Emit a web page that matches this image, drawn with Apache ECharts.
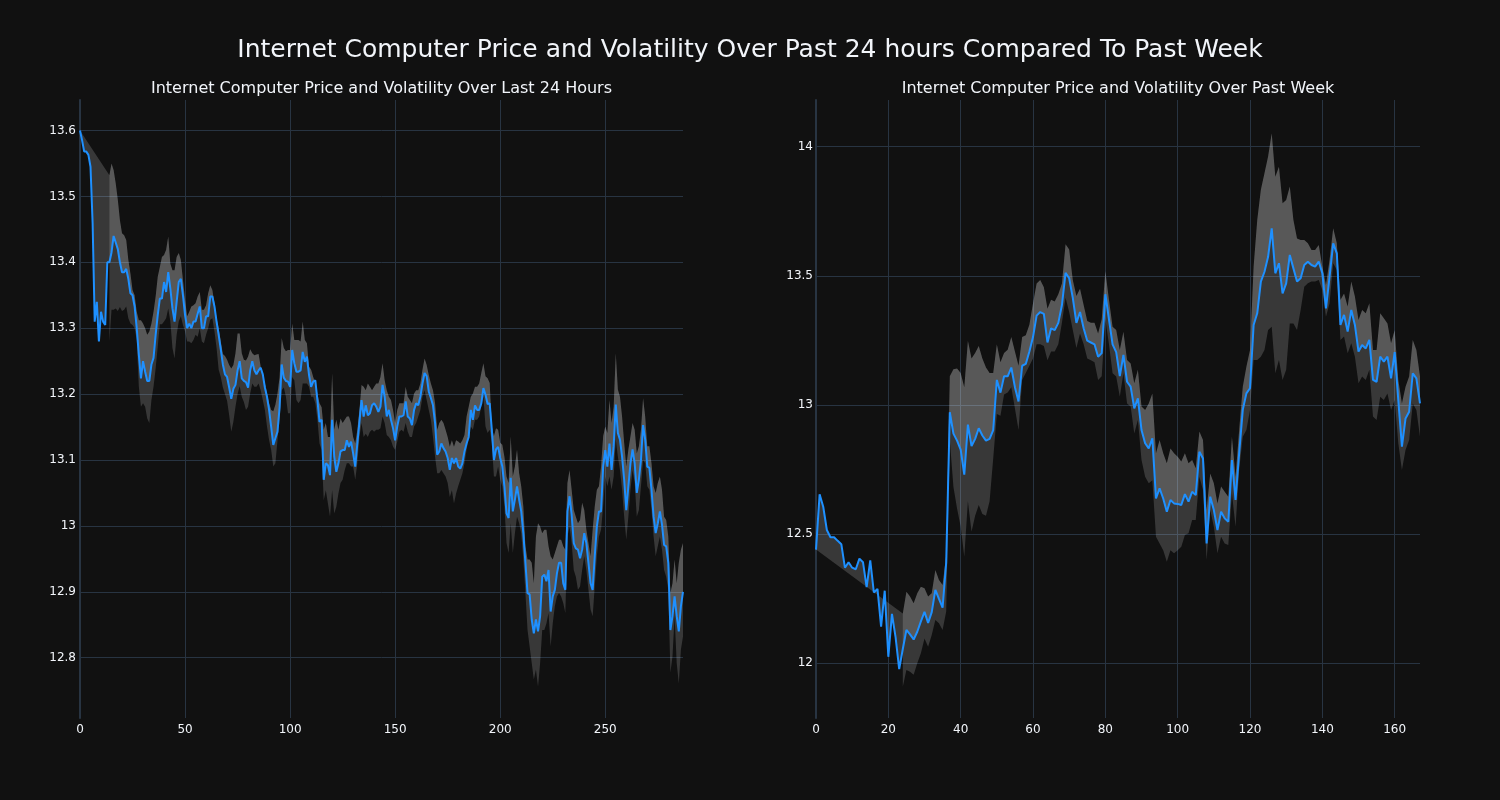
<!DOCTYPE html>
<html>
<head>
<meta charset="utf-8">
<script src="https://cdn.jsdelivr.net/npm/echarts@6/dist/echarts.min.js"></script>
<style>
html,body{margin:0;padding:0;background:#111111;}
#chart{width:1500px;height:800px;}
</style>
</head>
<body>
<div id="chart"></div>
<script>
const mainTitle = 'Internet Computer Price and Volatility Over Past 24 hours Compared To Past Week';
const dayTitle = 'Internet Computer Price and Volatility Over Last 24 Hours';
const weekTitle = 'Internet Computer Price and Volatility Over Past Week';

const dayXTicks = [0, 50, 100, 150, 200, 250];
const dayYTicks = [12.8, 12.9, 13, 13.1, 13.2, 13.3, 13.4, 13.5, 13.6];
const weekXTicks = [0, 20, 40, 60, 80, 100, 120, 140, 160];
const weekYTicks = [12, 12.5, 13, 13.5, 14];

const dayPrice = [
13.600,13.585,13.568,13.568,13.563,13.545,13.460,13.310,13.340,13.280,
13.325,13.310,13.305,13.400,13.400,13.415,13.440,13.430,13.420,13.400,
13.385,13.385,13.390,13.375,13.353,13.350,13.333,13.300,13.260,13.224,
13.250,13.234,13.220,13.220,13.245,13.255,13.290,13.320,13.345,13.345,
13.370,13.355,13.385,13.360,13.330,13.310,13.340,13.370,13.375,13.350,
13.320,13.300,13.307,13.300,13.310,13.310,13.322,13.333,13.300,13.300,
13.318,13.318,13.348,13.348,13.333,13.310,13.290,13.268,13.245,13.230,
13.226,13.210,13.193,13.208,13.214,13.236,13.250,13.224,13.220,13.218,
13.210,13.236,13.250,13.236,13.230,13.236,13.240,13.230,13.210,13.196,
13.176,13.150,13.123,13.133,13.143,13.180,13.245,13.225,13.220,13.219,
13.211,13.267,13.247,13.234,13.234,13.236,13.264,13.249,13.257,13.229,
13.211,13.219,13.221,13.191,13.158,13.161,13.070,13.095,13.092,13.077,
13.161,13.105,13.082,13.095,13.113,13.115,13.115,13.130,13.120,13.128,
13.110,13.090,13.125,13.158,13.191,13.166,13.183,13.168,13.171,13.183,
13.186,13.181,13.173,13.181,13.214,13.196,13.166,13.176,13.161,13.148,
13.130,13.151,13.166,13.166,13.168,13.189,13.166,13.163,13.153,13.176,
13.186,13.183,13.196,13.216,13.232,13.227,13.204,13.194,13.183,13.156,
13.108,13.113,13.125,13.118,13.113,13.103,13.085,13.103,13.095,13.103,
13.090,13.087,13.095,13.113,13.125,13.135,13.176,13.161,13.183,13.176,
13.176,13.186,13.209,13.199,13.185,13.186,13.146,13.100,13.116,13.120,
13.103,13.090,13.060,13.019,13.012,13.073,13.022,13.040,13.060,13.040,
13.022,12.989,12.944,12.898,12.896,12.858,12.837,12.858,12.840,12.863,
12.923,12.926,12.916,12.933,12.870,12.893,12.903,12.928,12.944,12.944,
12.913,12.903,13.022,13.045,13.017,12.974,12.966,12.964,12.951,12.964,
12.989,12.974,12.944,12.913,12.903,12.954,12.999,13.022,13.022,13.090,
13.115,13.090,13.125,13.085,13.121,13.184,13.141,13.131,13.105,13.070,
13.024,13.060,13.095,13.116,13.095,13.050,13.070,13.100,13.153,13.131,
13.090,13.088,13.055,13.014,12.989,13.004,13.022,13.002,12.971,12.969,
12.944,12.842,12.863,12.893,12.863,12.840,12.878,12.900
];

const dayUpper = [
null,null,null,null,null,null,null,null,null,null,
null,null,null,null,13.532,13.550,13.540,13.520,13.495,13.464,
13.444,13.441,13.434,13.404,13.383,13.358,13.350,13.325,13.312,13.312,
13.307,13.300,13.290,13.295,13.307,13.325,13.348,13.378,13.393,13.408,
13.411,13.419,13.439,13.398,13.388,13.388,13.408,13.414,13.404,13.373,
13.343,13.318,13.325,13.333,13.335,13.338,13.348,13.355,13.328,13.328,
13.335,13.353,13.365,13.358,13.338,13.315,13.300,13.280,13.261,13.258,
13.252,13.244,13.239,13.244,13.262,13.292,13.292,13.262,13.252,13.251,
13.257,13.268,13.262,13.259,13.260,13.261,13.242,13.226,13.216,13.201,
13.186,13.176,13.174,13.184,13.201,13.226,13.285,13.270,13.265,13.267,
13.267,13.307,13.282,13.282,13.282,13.280,13.310,13.282,13.277,13.242,
13.237,13.226,13.216,13.200,13.186,13.180,13.146,13.156,13.135,13.135,
13.232,13.146,13.161,13.146,13.163,13.156,13.161,13.166,13.166,13.156,
13.135,13.125,13.146,13.176,13.214,13.211,13.206,13.216,13.211,13.206,
13.211,13.216,13.216,13.226,13.247,13.221,13.206,13.196,13.191,13.176,
13.156,13.176,13.186,13.186,13.186,13.211,13.196,13.191,13.186,13.201,
13.206,13.206,13.216,13.237,13.254,13.244,13.229,13.216,13.206,13.186,
13.146,13.156,13.161,13.156,13.146,13.135,13.120,13.130,13.120,13.130,
13.128,13.125,13.130,13.138,13.166,13.181,13.196,13.201,13.211,13.211,
13.216,13.232,13.247,13.227,13.224,13.217,13.151,13.136,13.148,13.146,
13.126,13.123,13.105,13.075,13.065,13.136,13.075,13.090,13.116,13.080,
13.060,13.030,12.969,12.949,12.949,12.944,12.913,12.984,13.004,12.999,
12.989,12.994,12.994,12.969,12.954,12.949,12.959,12.969,12.979,12.979,
12.969,12.964,13.065,13.085,13.055,13.024,13.014,13.004,13.009,13.035,
13.024,12.994,12.974,12.954,12.994,13.030,13.055,13.060,13.090,13.136,
13.151,13.141,13.191,13.156,13.181,13.262,13.207,13.196,13.166,13.126,
13.090,13.116,13.136,13.156,13.146,13.110,13.121,13.146,13.194,13.166,
13.121,13.121,13.095,13.060,13.050,13.065,13.075,13.055,13.014,13.009,
12.984,12.898,12.913,12.949,12.913,12.944,12.964,12.974
];

const dayLower = [
null,null,null,null,null,null,null,null,null,null,
null,null,null,null,13.280,13.328,13.328,13.330,13.326,13.332,
13.326,13.328,13.333,13.315,13.307,13.305,13.300,13.282,13.211,13.181,
13.186,13.181,13.163,13.156,13.191,13.211,13.239,13.272,13.306,13.306,
13.310,13.315,13.330,13.310,13.270,13.254,13.290,13.310,13.318,13.305,
13.295,13.280,13.280,13.277,13.282,13.290,13.287,13.300,13.280,13.277,
13.290,13.300,13.313,13.315,13.295,13.270,13.237,13.226,13.210,13.200,
13.190,13.168,13.143,13.158,13.181,13.200,13.212,13.196,13.188,13.176,
13.181,13.201,13.216,13.211,13.211,13.216,13.206,13.191,13.176,13.151,
13.130,13.115,13.090,13.095,13.130,13.161,13.206,13.210,13.196,13.171,
13.171,13.226,13.221,13.191,13.186,13.191,13.216,13.216,13.216,13.211,
13.196,13.196,13.186,13.161,13.125,13.115,13.039,13.054,13.034,13.014,
13.054,13.019,13.029,13.049,13.065,13.070,13.085,13.095,13.095,13.090,
13.090,13.070,13.095,13.135,13.156,13.135,13.140,13.135,13.143,13.146,
13.143,13.146,13.146,13.148,13.166,13.156,13.138,13.135,13.130,13.120,
13.115,13.128,13.143,13.146,13.143,13.156,13.143,13.135,13.135,13.151,
13.156,13.166,13.176,13.196,13.206,13.191,13.176,13.161,13.135,13.105,
13.080,13.080,13.085,13.080,13.075,13.065,13.044,13.054,13.034,13.049,
13.060,13.070,13.080,13.095,13.115,13.135,13.151,13.146,13.161,13.161,
13.166,13.181,13.196,13.151,13.141,13.146,13.126,13.075,13.075,13.090,
13.070,13.060,13.030,12.974,12.959,13.004,12.959,12.989,13.014,13.004,
12.989,12.949,12.898,12.842,12.817,12.792,12.767,12.782,12.756,12.792,
12.842,12.842,12.852,12.868,12.817,12.852,12.878,12.893,12.898,12.893,
12.883,12.868,12.984,12.999,12.974,12.933,12.923,12.903,12.908,12.933,
12.954,12.933,12.903,12.873,12.863,12.908,12.954,12.984,12.994,13.030,
13.075,13.060,13.075,13.055,13.075,13.131,13.105,13.085,13.055,13.014,
12.979,13.014,13.055,13.085,13.065,13.014,13.024,13.060,13.100,13.095,
13.060,13.055,13.024,12.984,12.954,12.969,12.984,12.964,12.933,12.923,
12.903,12.777,12.802,12.863,12.792,12.761,12.812,12.832
];

const weekPrice = [
12.440,12.654,12.606,12.516,12.488,12.488,12.474,12.461,12.370,12.391,
12.370,12.364,12.405,12.391,12.295,12.398,12.274,12.288,12.142,12.281,
12.025,12.191,12.101,11.977,12.055,12.129,12.112,12.092,12.122,12.162,
12.199,12.156,12.198,12.284,12.249,12.215,12.390,12.972,12.889,12.862,
12.827,12.730,12.924,12.841,12.869,12.910,12.882,12.862,12.869,12.903,
13.097,13.048,13.111,13.111,13.145,13.069,13.014,13.152,13.159,13.207,
13.263,13.346,13.360,13.353,13.242,13.297,13.290,13.318,13.387,13.512,
13.491,13.415,13.318,13.360,13.297,13.249,13.242,13.235,13.187,13.201,
13.429,13.332,13.235,13.205,13.112,13.194,13.090,13.071,12.987,13.026,
12.903,12.852,12.832,12.871,12.638,12.677,12.638,12.587,12.632,12.619,
12.617,12.613,12.655,12.626,12.664,12.651,12.819,12.793,12.464,12.645,
12.593,12.516,12.587,12.561,12.548,12.787,12.632,12.813,12.981,13.045,
13.065,13.310,13.355,13.478,13.516,13.574,13.684,13.510,13.549,13.432,
13.471,13.581,13.529,13.478,13.491,13.542,13.555,13.542,13.536,13.555,
13.510,13.374,13.497,13.626,13.587,13.310,13.349,13.284,13.368,13.310,
13.207,13.232,13.219,13.252,13.097,13.090,13.187,13.168,13.187,13.103,
13.205,13.019,12.839,12.948,12.974,13.123,13.103,13.006
];

const weekUpper = [
null,null,null,null,null,null,null,null,null,null,
null,null,null,null,null,null,null,null,null,null,
null,null,null,null,12.193,12.277,12.258,12.232,12.271,12.296,
12.290,12.258,12.271,12.361,12.322,12.303,12.420,13.111,13.138,13.141,
13.124,13.069,13.249,13.180,13.201,13.228,13.180,13.145,13.124,13.124,
13.235,13.166,13.201,13.214,13.263,13.207,13.152,13.263,13.270,13.311,
13.394,13.470,13.484,13.456,13.373,13.408,13.401,13.429,13.470,13.622,
13.602,13.484,13.422,13.450,13.387,13.325,13.318,13.318,13.277,13.332,
13.519,13.408,13.303,13.290,13.213,13.284,13.174,13.161,13.084,13.136,
12.994,12.981,13.006,13.045,12.813,12.864,12.813,12.774,12.832,12.813,
12.800,12.781,12.813,12.774,12.787,12.755,12.897,12.864,12.593,12.735,
12.697,12.619,12.684,12.664,12.645,12.877,12.722,12.903,13.071,13.148,
13.213,13.536,13.716,13.833,13.897,13.962,14.052,13.884,13.923,13.781,
13.794,13.846,13.716,13.645,13.639,13.639,13.626,13.600,13.600,13.620,
13.536,13.465,13.562,13.684,13.626,13.407,13.432,13.381,13.478,13.420,
13.329,13.368,13.355,13.394,13.213,13.213,13.355,13.336,13.316,13.239,
13.290,13.097,13.006,13.071,13.110,13.252,13.213,13.110
];

const weekLower = [
null,null,null,null,null,null,null,null,null,null,
null,null,null,null,null,null,null,null,null,null,
null,null,null,null,11.909,11.974,11.967,11.955,12.000,12.039,
12.096,12.064,12.109,12.167,12.155,12.129,12.200,12.862,12.682,12.599,
12.530,12.412,12.627,12.509,12.571,12.613,12.578,12.571,12.627,12.793,
12.965,12.958,13.041,13.048,13.069,12.986,12.903,13.097,13.124,13.152,
13.180,13.235,13.235,13.228,13.173,13.207,13.207,13.235,13.318,13.415,
13.360,13.290,13.221,13.277,13.235,13.180,13.173,13.166,13.097,13.111,
13.332,13.235,13.123,13.110,13.032,13.123,13.006,12.994,12.890,12.942,
12.787,12.722,12.697,12.709,12.490,12.464,12.438,12.393,12.438,12.426,
12.438,12.451,12.497,12.503,12.555,12.555,12.722,12.671,12.400,12.593,
12.529,12.426,12.490,12.464,12.458,12.658,12.529,12.748,12.877,12.903,
12.981,13.174,13.174,13.187,13.213,13.290,13.303,13.123,13.174,13.097,
13.136,13.316,13.316,13.290,13.368,13.458,13.471,13.478,13.478,13.484,
13.445,13.342,13.394,13.549,13.523,13.252,13.265,13.200,13.239,13.187,
13.084,13.110,13.097,13.136,12.955,12.942,13.032,13.019,13.045,12.981,
13.019,12.852,12.748,12.826,12.864,13.006,12.981,12.877
];

// ---------- build ----------
const BG = '#111111';
const GRID = '#283442';
const TXT = '#f2f5fa';
const LINE = '#1e90ff';
const FILL = 'rgba(255,255,255,0.165)';
const FONT = '"DejaVu Sans", Verdana, sans-serif';

function firstValid(arr){ for (let i=0;i<arr.length;i++){ if (arr[i]!=null) return i; } return -1; }

// polygon between price and upper (price forward, upper backward)
function polyPriceUpper(price, upper){
  const pts = [];
  for (let i=0;i<price.length;i++) pts.push([i, price[i]]);
  const f = firstValid(upper);
  for (let i=upper.length-1;i>=f;i--) pts.push([i, upper[i]]);
  return pts;
}
// polygon between upper and lower
function polyUpperLower(upper, lower){
  const pts = [];
  const f = firstValid(upper);
  for (let i=f;i<upper.length;i++) pts.push([i, upper[i]]);
  for (let i=lower.length-1;i>=f;i--) pts.push([i, lower[i]]);
  return pts;
}

function bandSeries(pts, idx){
  return {
    type: 'custom',
    xAxisIndex: idx, yAxisIndex: idx,
    clip: true,
    silent: true,
    z: 1,
    data: [[pts[0][0], pts[0][1]]],
    encode: { x: 0, y: 1 },
    renderItem: function(params, api){
      const p = pts.map(function(d){ return api.coord(d); });
      return { type: 'polygon', shape: { points: p }, style: { fill: FILL, stroke: null } };
    }
  };
}

function lineSeries(price, idx){
  return {
    type: 'line',
    xAxisIndex: idx, yAxisIndex: idx,
    data: price.map(function(v,i){ return [i, v]; }),
    showSymbol: false, symbol: 'none',
    lineStyle: { color: LINE, width: 2 },
    z: 3,
    silent: true
  };
}

function fmt(v){ return String(parseFloat((+v).toFixed(3))); }

function xAxis(idx, max, ticks){
  return {
    type: 'value', gridIndex: idx, min: 0, max: max,
    axisLine: { show: false },
    axisTick: { show: false, customValues: ticks },
    axisLabel: { customValues: ticks, color: TXT, fontSize: 12, fontFamily: FONT, margin: 6, formatter: fmt },
    splitLine: { show: true, lineStyle: { color: GRID, width: 1 } }
  };
}
function yAxis(idx, min, max, ticks, margin){
  return {
    type: 'value', gridIndex: idx, min: min, max: max,
    axisLine: { show: true, lineStyle: { color: GRID, width: 2 } },
    axisTick: { show: false, customValues: ticks },
    axisLabel: { customValues: ticks, color: TXT, fontSize: 12, fontFamily: FONT, margin: margin, formatter: fmt },
    splitLine: { show: true, lineStyle: { color: GRID, width: 1 } }
  };
}

const chart = echarts.init(document.getElementById('chart'), null, { renderer: 'canvas' });
chart.setOption({
  backgroundColor: BG,
  animation: false,
  textStyle: { fontFamily: FONT },
  graphic: [
    { type: 'text', x: 750, y: 50, style: { text: mainTitle, fill: TXT, font: '25px ' + FONT, textAlign: 'center', textVerticalAlign: 'middle', align: 'center', verticalAlign: 'middle' } },
    { type: 'text', x: 381.5, y: 89, style: { text: dayTitle, fill: TXT, font: '16px ' + FONT, textAlign: 'center', textVerticalAlign: 'middle', align: 'center', verticalAlign: 'middle' } },
    { type: 'text', x: 1118, y: 89, style: { text: weekTitle, fill: TXT, font: '16px ' + FONT, textAlign: 'center', textVerticalAlign: 'middle', align: 'center', verticalAlign: 'middle' } }
  ],
  grid: [
    { left: 80, top: 100, width: 603, height: 618, containLabel: false },
    { left: 816, top: 100, width: 604, height: 618, containLabel: false }
  ],
  xAxis: [ xAxis(0, 287, dayXTicks), xAxis(1, 167, weekXTicks) ],
  yAxis: [ yAxis(0, 12.7085, 13.6463, dayYTicks, 4), yAxis(1, 11.788, 14.181, weekYTicks, 3) ],
  series: [
    bandSeries(polyPriceUpper(dayPrice, dayUpper), 0),
    bandSeries(polyUpperLower(dayUpper, dayLower), 0),
    lineSeries(dayPrice, 0),
    bandSeries(polyPriceUpper(weekPrice, weekUpper), 1),
    bandSeries(polyUpperLower(weekUpper, weekLower), 1),
    lineSeries(weekPrice, 1)
  ]
});
</script>
</body>
</html>
